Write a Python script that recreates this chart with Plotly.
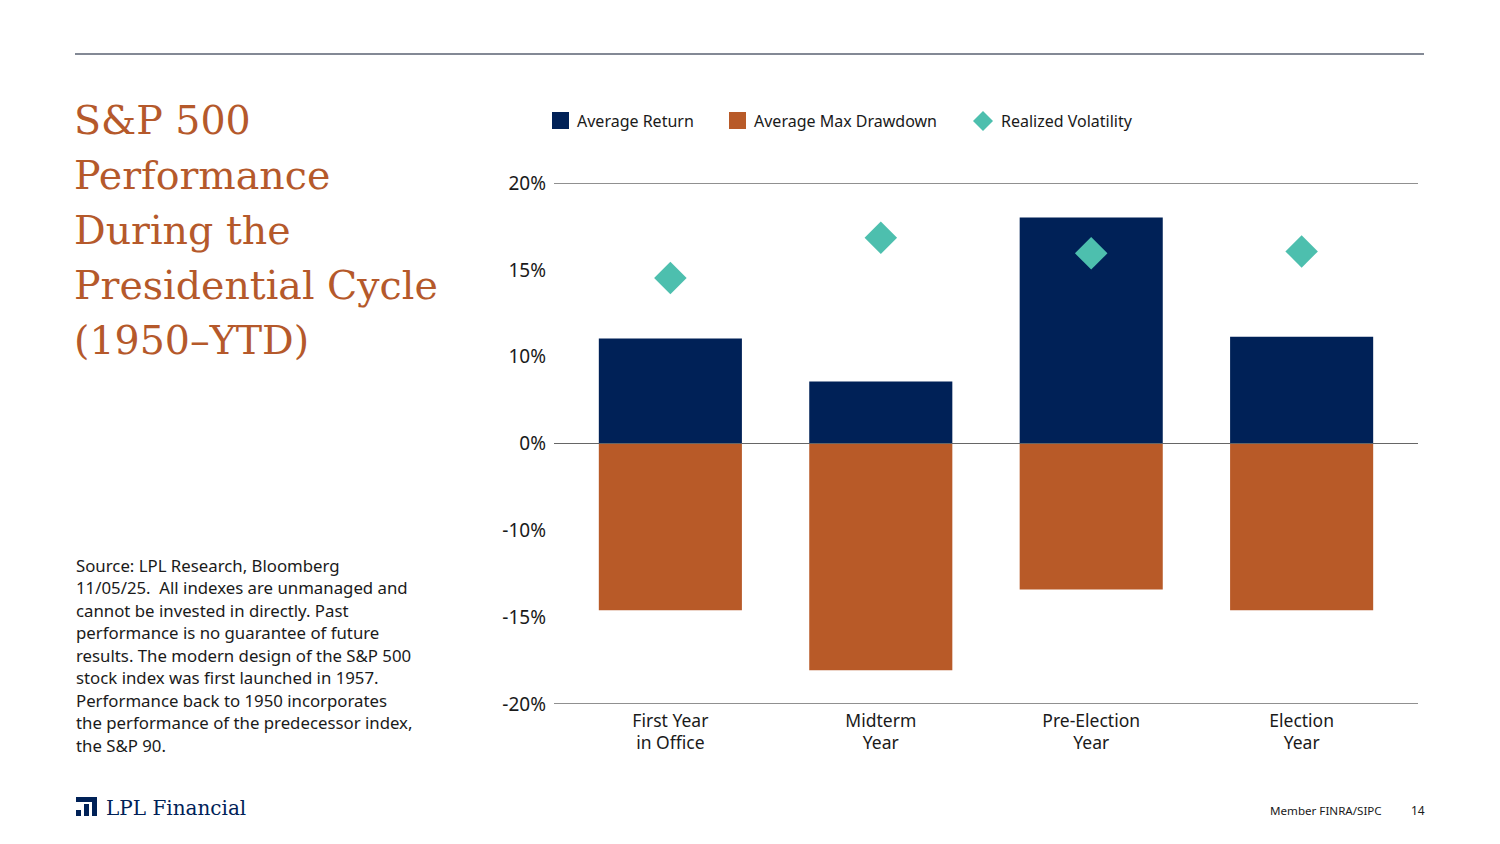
import plotly.graph_objects as go

categories = ["First Year<br>in Office", "Midterm<br>Year", "Pre-Election<br>Year", "Election<br>Year"]
avg_return = [8.06, 4.76, 17.35, 8.2]
avg_max_drawdown = [-12.8, -17.4, -11.2, -12.8]
realized_volatility = [12.7, 15.8, 14.6, 14.75]
tick_vals = [-20, -13.33, -6.67, 0, 6.67, 13.33, 20]
tick_text = ["-20%", "-15%", "-10%", "0%", "10%", "15%", "20%"]
series_names = ["Average Return", "Average Max Drawdown", "Realized Volatility"]
title_lines = ["S&P 500", "Performance", "During the", "Presidential Cycle", "(1950–YTD)"]
source_lines = [
    "Source: LPL Research, Bloomberg",
    "11/05/25.  All indexes are unmanaged and",
    "cannot be invested in directly. Past",
    "performance is no guarantee of future",
    "results. The modern design of the S&P 500",
    "stock index was first launched in 1957.",
    "Performance back to 1950 incorporates",
    "the performance of the predecessor index,",
    "the S&P 90.",
]

NAVY = "#002157"
ORANGE = "#B85A28"
TEAL = "#4DBFAE"
TITLE = "#B5592B"
TXT = "#1a1a1a"
SANS = "Noto Sans, Lato, sans-serif"
SERIF = "DejaVu Serif, serif"

# page is rendered with an 8px offset; figure coordinates = screen - 8
OFF = 8
W, H = 1500 - OFF, 844 - OFF
L, T = 554 - OFF, 183 - OFF
PW, PH = 864, 521
R = W - L - PW
B = H - T - PH

def px(xs):
    return (xs - OFF - L) / PW

def py(ys):
    return (T + PH - (ys - OFF)) / PH

x = list(range(len(categories)))

fig = go.Figure()
fig.add_trace(go.Bar(x=x, y=avg_return, name=series_names[0], marker_color=NAVY,
                     marker_line_width=0, width=0.68, showlegend=False))
fig.add_trace(go.Bar(x=x, y=avg_max_drawdown, name=series_names[1], marker_color=ORANGE,
                     marker_line_width=0, width=0.68, showlegend=False))
fig.add_trace(go.Scatter(x=x, y=realized_volatility, name=series_names[2], mode="markers",
                         marker=dict(symbol="diamond", size=25, color=TEAL, line_width=0),
                         showlegend=False))

fig.update_layout(
    width=W, height=H,
    margin=dict(l=L, r=R, t=T, b=B, autoexpand=False),
    paper_bgcolor="white", plot_bgcolor="white",
    barmode="relative",
    xaxis=dict(range=[-0.553, 3.553], tickvals=x, ticktext=categories, showgrid=False,
               zeroline=False, showline=False, ticks="", ticklabelstandoff=4,
               tickfont=dict(family=SANS, size=17.5, color=TXT)),
    yaxis=dict(range=[-20, 20], tickvals=tick_vals, ticktext=tick_text, showgrid=False,
               zeroline=False, showline=False, ticks="", ticklabelstandoff=7,
               tickfont=dict(family=SANS, size=19, color=TXT)),
    font=dict(family=SANS),
)

# horizontal rules
for yv, col, w in [(20, "#222222", 1.2), (-20, "#222222", 1.2), (0, "#666666", 1)]:
    fig.add_shape(type="line", xref="paper", yref="y", x0=0, x1=1, y0=yv, y1=yv,
                  line=dict(color=col, width=w), layer="above")

# top rule across page
fig.add_shape(type="line", xref="paper", yref="paper", x0=px(75), x1=px(1424), y0=py(54), y1=py(54),
              line=dict(color="#5a6272", width=1.5))

# manual legend
legend_items = [(552, NAVY, "square"), (729, ORANGE, "square"), (973, TEAL, "diamond")]
for (lx, col, kind), name in zip(legend_items, series_names):
    if kind == "square":
        fig.add_shape(type="rect", xref="paper", yref="paper", x0=px(lx), x1=px(lx + 17),
                      y0=py(112), y1=py(129), fillcolor=col, line_width=0)
        tx = lx + 23
    else:
        fig.add_shape(type="path", xref="paper", yref="paper",
                      path=f"M {px(lx)} {py(121)} L {px(lx + 10)} {py(111)} L {px(lx + 20)} {py(121)} "
                           f"L {px(lx + 10)} {py(131)} Z",
                      fillcolor=col, line_width=0)
        tx = lx + 26
    fig.add_annotation(xref="paper", yref="paper", x=px(tx), y=py(121), xanchor="left", yanchor="middle",
                       text=name, showarrow=False, font=dict(family=SANS, size=16, color=TXT))

# Title
for i, line in enumerate(title_lines):
    fig.add_annotation(xref="paper", yref="paper", x=px(72), y=py(95 + 55 * i), xanchor="left",
                       yanchor="top", text=line, showarrow=False, align="left",
                       font=dict(family=SERIF, size=39.5, color=TITLE))

# Source
for i, line in enumerate(source_lines):
    fig.add_annotation(xref="paper", yref="paper", x=px(74), y=py(565 + 22.5 * i), xanchor="left",
                       yanchor="middle", text=line, showarrow=False, align="left",
                       font=dict(family=SANS, size=16.8, color=TXT))

# Logo icon
logo_rects = [(76, 797, 97, 802), (92, 797, 97, 816), (84, 804, 89, 816), (76, 810, 81, 816)]
for x0, y0, x1, y1 in logo_rects:
    fig.add_shape(type="rect", xref="paper", yref="paper", x0=px(x0), x1=px(x1), y0=py(y0), y1=py(y1),
                  fillcolor=NAVY, line_width=0)
fig.add_annotation(xref="paper", yref="paper", x=px(104), y=py(808), xanchor="left", yanchor="middle",
                   text="LPL Financial", showarrow=False,
                   font=dict(family=SERIF, size=20, color=NAVY))

fig.add_annotation(xref="paper", yref="paper", x=px(1384), y=py(810), xanchor="right", yanchor="middle",
                   text="Member FINRA/SIPC", showarrow=False,
                   font=dict(family=SANS, size=11.6, color=TXT))
fig.add_annotation(xref="paper", yref="paper", x=px(1427), y=py(810), xanchor="right", yanchor="middle",
                   text="14", showarrow=False,
                   font=dict(family=SANS, size=12, color=TXT))

fig.write_html("out.html")
